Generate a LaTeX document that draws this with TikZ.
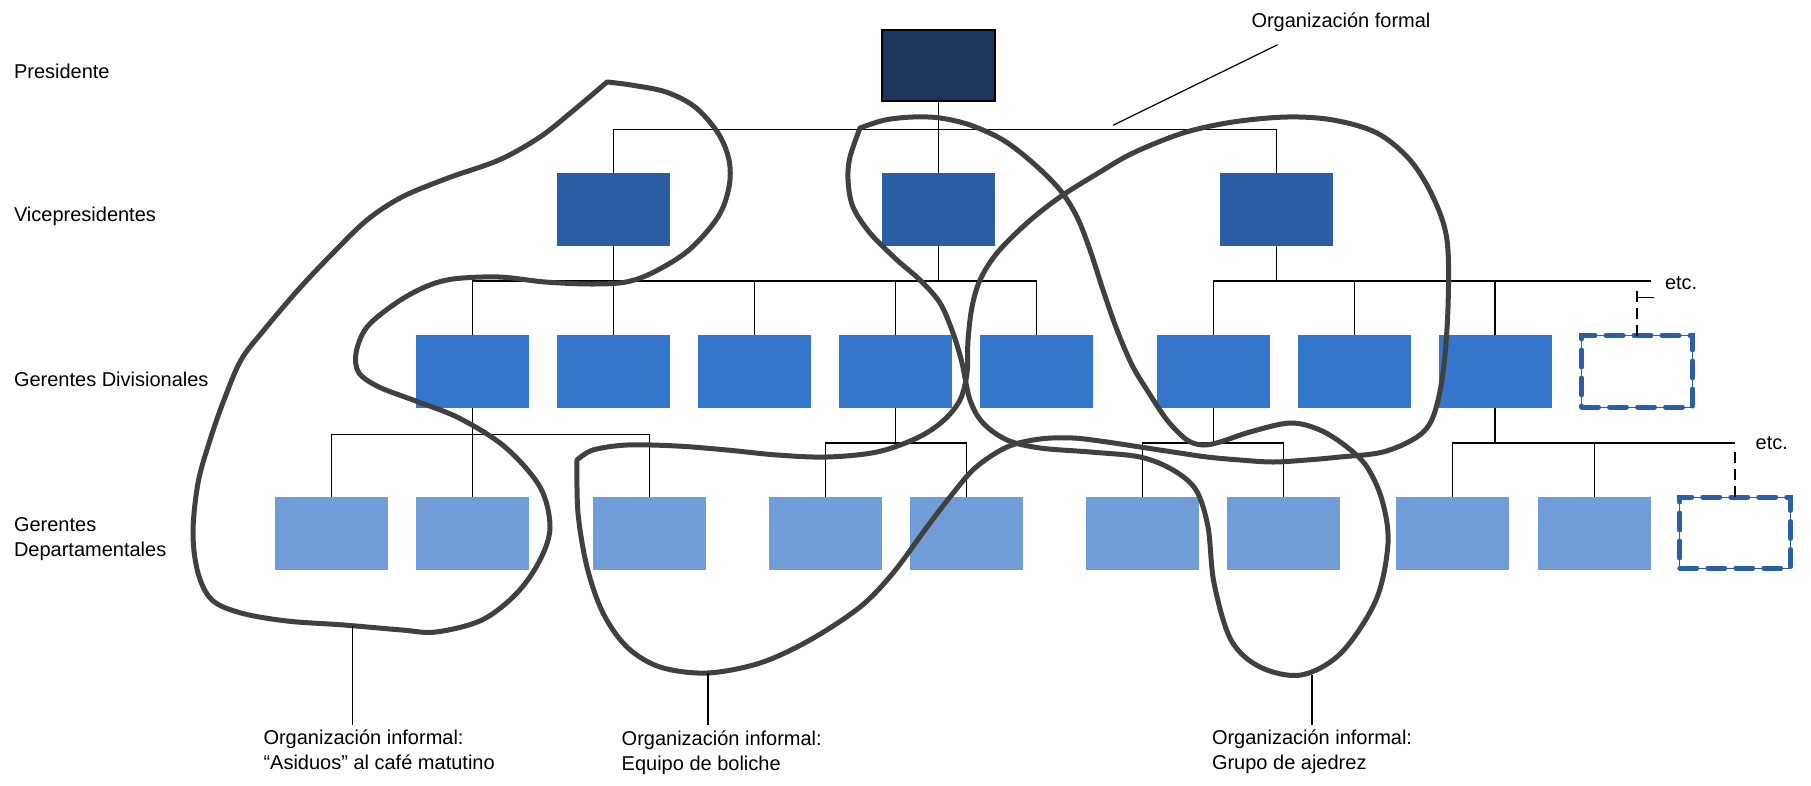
\documentclass[tikz,border=0pt]{standalone}
\usepackage{fontspec}
\setmainfont{Liberation Sans}
\definecolor{presblue}{HTML}{1B365D}
\definecolor{vpblue}{HTML}{2A5EA4}
\definecolor{divblue}{HTML}{3476CC}
\definecolor{depblue}{HTML}{709CD8}
\definecolor{moreblue}{HTML}{2A5EA6}
\definecolor{loopgray}{HTML}{404040}
\begin{document}
\begin{tikzpicture}[x=1pt,y=-1pt,
  lbl/.style={inner sep=0pt,outer sep=0pt,font=\fontsize{20}{25}\selectfont,align=left},
  box/.style={inner sep=0pt,outer sep=0pt,minimum width=113pt,minimum height=72.7pt},
  presbox/.style={box,fill=presblue,draw=black,line width=1.5pt,minimum width=113pt,minimum height=71pt},
  vpbox/.style={box,fill=vpblue},
  divbox/.style={box,fill=divblue},
  depbox/.style={box,fill=depblue},
  morebox/.style={box,fill=white,draw=moreblue,line width=0.8pt,minimum width=111pt,minimum height=71.5pt,
     postaction={draw=moreblue,line width=5pt,line cap=round,dash pattern=on 17pt off 11pt}},
  conn/.style={draw=black,line width=1.4pt},
  linkdash/.style={conn,dash pattern=on 11pt off 6pt},
  loop/.style={draw=loopgray,line width=5pt,line join=round,line cap=round}
]
\useasboundingbox (0,0) rectangle (1811,785);
\fill[white] (0,0) rectangle (1811,785);

% ---- boxes of the chart ----
\node[presbox] (P) at (938.25,65.3) {};
\node[vpbox] (VPL) at (613.5,209.35) {};
\node[vpbox] (VPM) at (938.25,209.35) {};
\node[vpbox] (VPR) at (1276.5,209.35) {};

\node[divbox] (DV1) at (472.5,371.35) {};
\node[divbox] (DV2) at (613.5,371.35) {};
\node[divbox] (DV3) at (754.25,371.35) {};
\node[divbox] (DV4) at (895.5,371.35) {};
\node[divbox] (DV5) at (1036.5,371.35) {};
\node[divbox] (DV6) at (1213.5,371.35) {};
\node[divbox] (DV7) at (1354.5,371.35) {};
\node[divbox] (DV8) at (1495,371.35) {};
\node[morebox] (M1) at (1637,371.25) {};

\node[depbox] (DP1) at (331.5,533.35) {};
\node[depbox] (DP2) at (472.5,533.35) {};
\node[depbox] (DP3) at (649.25,533.35) {};
\node[depbox] (DP4) at (825.5,533.35) {};
\node[depbox] (DP5) at (966.5,533.35) {};
\node[depbox] (DP6) at (1142.5,533.35) {};
\node[depbox] (DP7) at (1283.5,533.35) {};
\node[depbox] (DP8) at (1452.5,533.35) {};
\node[depbox] (DP9) at (1594.5,533.35) {};
\node[morebox,minimum width=110.5pt,minimum height=71pt] (M2) at (1735,532.5) {};

% ---- bus junctions and free ends ----
\coordinate (t0) at (938.25,129.3);
\coordinate (jA) at (613.5,281);
\coordinate (jB) at (1276.5,281);
\coordinate (etcA) at (1650.7,281);
\coordinate (dA) at (1637,288);
\coordinate (tA) at (1654,297.3);
\coordinate (kA) at (472.5,434.7);
\coordinate (kB) at (895.5,443);
\coordinate (kC) at (1213.5,443);
\coordinate (kD) at (1495,443);
\coordinate (etcB) at (1735,443);
\coordinate (dB) at (1735,450);

% ---- formal connectors ----
\draw[conn] (P.south) -- (VPM.north);
\draw[conn] (VPL.north) |- (t0) -| (VPR.north);

\draw[conn] (VPL.south) -- (DV2.north);
\draw[conn] (DV1.north) |- (jA) -| (DV5.north);
\draw[conn] (VPM.south) -- (VPM.south |- jA);
\draw[conn] (DV3.north) -- (DV3.north |- jA);
\draw[conn] (DV4.north) -- (DV4.north |- jA);

\draw[conn] (VPR.south) -- (jB);
\draw[conn] (DV6.north) |- (etcA);
\draw[conn] (DV7.north) -- (DV7.north |- jB);
\draw[conn] (DV8.north) -- (DV8.north |- jB);
\draw[linkdash] (M1.north) -- (dA);
\draw[conn] (tA) -- (tA -| M1.north);

\draw[conn] (DV1.south) -- (DP2.north);
\draw[conn] (DP1.north) |- (kA) -| (DP3.north);
\draw[conn] (DV4.south) -- (kB);
\draw[conn] (DP4.north) |- (kB) -| (DP5.north);
\draw[conn] (DV6.south) -- (kC);
\draw[conn] (DP6.north) |- (kC) -| (DP7.north);
\draw[conn] (DV8.south) -- (kD);
\draw[conn] (DP8.north) |- (etcB);
\draw[conn] (DP9.north) -- (DP9.north |- kD);
\draw[linkdash] (M2.north) -- (dB);

% ---- informal groups ----
% morning coffee regulars
\draw[loop] plot[smooth,tension=0.55] coordinates {
 (607,82) (631,85) (666,92) (695,107) (718,133) (729,160) (729,187) (718,217)
 (689,250) (654,272) (626,282) (591,284) (545,282) (499,277) (453,279) (425,287)
 (396,303) (367,327) (356,353) (359,373) (379,387) (413,400) (459,418) (505,447)
 (540,487) (550,527) (540,560) (517,593) (482,620) (436,632) (402,630) (344,625)
 (287,621) (241,613) (212,600) (198,573) (193,533) (198,483) (210,440) (224,400)
 (241,360) (264,330) (298,290) (333,253) (367,220) (402,197) (448,178) (499,160)
 (540,137) (574,110) (607,82)};
% bowling team
\draw[loop] plot[smooth,tension=0.55] coordinates {
 (577,460) (593,450) (627,445) (677,446) (727,450) (777,455) (827,457) (877,452)
 (917,438) (943,421) (960,400) (967,373) (968,340) (972,307) (980,280) (997,253)
 (1027,223) (1060,197) (1100,172) (1133,153) (1183,133) (1233,122) (1287,117)
 (1333,120) (1377,133) (1410,160) (1433,197) (1447,240) (1448,307) (1443,373)
 (1433,417) (1417,437) (1383,452) (1340,457) (1307,460) (1273,462) (1240,460)
 (1207,457) (1173,452) (1140,447) (1107,442) (1073,438) (1040,439) (1007,447)
 (975,468) (950,497) (927,527) (893,573) (860,607) (810,640) (760,663) (707,673)
 (660,667) (627,647) (603,613) (587,567) (578,513) (577,460)};
% chess group
\draw[loop] plot[smooth,tension=0.55] coordinates {
 (860,128) (885,120) (913,117) (940,118) (970,125) (1003,140) (1033,163) (1060,190)
 (1077,217) (1090,250) (1103,290) (1117,330) (1132,365) (1147,390) (1167,420)
 (1187,440) (1203,445) (1220,442) (1250,432) (1290,423) (1320,430) (1347,447)
 (1367,467) (1382,500) (1388,543) (1376,600) (1341,653) (1301,675) (1260,667)
 (1231,640) (1214,583) (1208,527) (1196,490) (1173,470) (1140,457) (1090,452)
 (1040,448) (1007,440) (983,423) (970,400) (962,363) (953,333) (940,303) (920,280)
 (897,260) (870,233) (853,207) (848,180) (850,157) (860,128)};

% ---- level labels ----
\node[lbl,anchor=base west] (lvP) at (14,78) {Presidente};
\node[lbl,anchor=base west] (lvV) at (14,221) {Vicepresidentes};
\node[lbl,anchor=base west] (lvD) at (14,386) {Gerentes Divisionales};
\node[lbl,anchor=base west] (lvG) at (14,556) {Gerentes\\Departamentales};

% ---- callouts ----
\node[lbl,anchor=base west] (formal) at (1251.5,27.6) {Organización formal};
\coordinate (fTip) at (1113,125.3);
\draw[conn,line width=1.2pt] ([xshift=-63.5pt,yshift=-13pt]formal.south) -- (fTip);

\node[lbl,anchor=base west] (etc1) at (1665,289) {etc.};
\node[lbl,anchor=base west] (etc2) at (1755.7,449) {etc.};

\coordinate (cafeEnd) at (352.5,626);
\coordinate (bolEnd) at (708,673);
\coordinate (ajeEnd) at (1312,675);
\node[lbl,anchor=base west] (cafe) at (263.5,769.5) {Organización informal:\\“Asiduos” al café matutino};
\node[lbl,anchor=base west] (bol) at (621.7,770) {Organización informal:\\Equipo de boliche};
\node[lbl,anchor=base west] (aje) at (1212,769.5) {Organización informal:\\Grupo de ajedrez};
\draw[conn,line width=1.6pt] (cafeEnd) -- (cafeEnd |- 0,725);
\draw[conn,line width=1.6pt] (bolEnd) -- (bolEnd |- 0,725);
\draw[conn,line width=1.6pt] (ajeEnd) -- (ajeEnd |- 0,725);
\end{tikzpicture}
\end{document}
